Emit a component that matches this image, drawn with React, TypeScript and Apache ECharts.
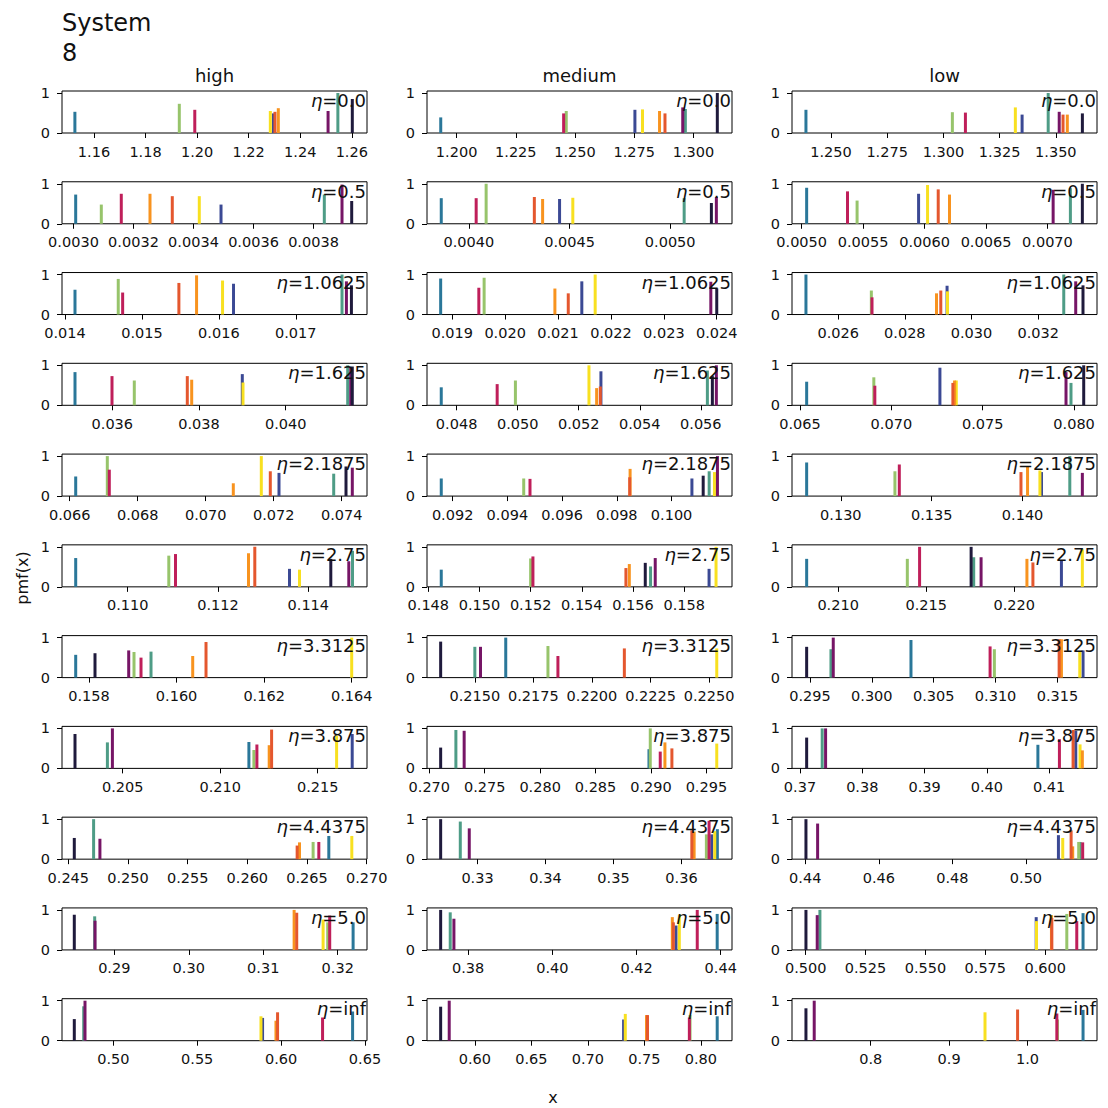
import React, { useEffect, useRef } from "react";
import * as echarts from "echarts";

// draw order: earlier categories are painted first (underneath)
const categories = ["navy", "teal", "seagreen", "green", "yellow", "orange", "redorange", "crimson", "purple", "dark"];
const categoryColors = ["#3b4994", "#2a7799", "#4e9c86", "#97c46b", "#f8e020", "#f8931f", "#e4572e", "#bf1f5a", "#761566", "#1f1a3c"];
const etaLabels = ["0.0", "0.5", "1.0625", "1.625", "2.1875", "2.75", "3.3125", "3.875", "4.4375", "5.0", "inf"];
const columnTitles = ["high", "medium", "low"];

type Bar = [string, number, number];

// ---------- high ----------
const highBars: Bar[][] = [
  [["teal", 1.1526, 0.53], ["green", 1.1931, 0.73], ["crimson", 1.1991, 0.58], ["yellow", 1.2284, 0.55], ["navy", 1.2296, 0.49], ["redorange", 1.2302, 0.53], ["orange", 1.2315, 0.62], ["purple", 1.2508, 0.55], ["seagreen", 1.2546, 1.0], ["dark", 1.2602, 0.85]],
  [["teal", 0.0030073, 0.73], ["green", 0.0030927, 0.48], ["crimson", 0.0031593, 0.75], ["orange", 0.003255, 0.75], ["redorange", 0.0033293, 0.69], ["yellow", 0.0034193, 0.69], ["navy", 0.0034917, 0.48], ["seagreen", 0.003836, 0.73], ["purple", 0.003895, 0.98], ["dark", 0.0039273, 0.57]],
  [["teal", 0.0141299, 0.62], ["green", 0.0146922, 0.89], ["crimson", 0.0147494, 0.55], ["redorange", 0.0154805, 0.79], ["orange", 0.0157104, 0.98], ["yellow", 0.0160481, 0.85], ["navy", 0.0161909, 0.77], ["seagreen", 0.0176013, 1.0], ["purple", 0.0176584, 0.83], ["dark", 0.0177234, 0.73]],
  [["teal", 0.0351396, 0.83], ["crimson", 0.0359931, 0.73], ["green", 0.0365075, 0.62], ["redorange", 0.0377301, 0.73], ["orange", 0.0378316, 0.64], ["navy", 0.0389988, 0.78], ["yellow", 0.039015, 0.57], ["seagreen", 0.0414302, 1.0], ["purple", 0.0415, 0.95], ["dark", 0.041536, 0.97]],
  [["teal", 0.0661765, 0.49], ["green", 0.0671059, 1.0], ["crimson", 0.0671647, 0.66], ["orange", 0.0708118, 0.32], ["yellow", 0.0716353, 1.0], ["redorange", 0.0719, 0.62], ["navy", 0.0721559, 0.58], ["seagreen", 0.0737647, 0.56], ["dark", 0.0741265, 0.74], ["purple", 0.0743118, 0.71]],
  [["teal", 0.1088483, 0.72], ["green", 0.1109103, 0.78], ["crimson", 0.1110587, 0.82], ["orange", 0.1126755, 0.84], ["redorange", 0.112815, 1.0], ["navy", 0.1135836, 0.45], ["yellow", 0.1138051, 0.43], ["dark", 0.1144983, 0.7], ["purple", 0.114897, 0.64], ["seagreen", 0.114979, 0.9]],
  [["teal", 0.1576962, 0.57], ["dark", 0.158137, 0.61], ["purple", 0.1589068, 0.68], ["green", 0.1590279, 0.64], ["crimson", 0.1591878, 0.5], ["seagreen", 0.1594162, 0.65], ["orange", 0.1603687, 0.54], ["redorange", 0.1606725, 0.89], ["yellow", 0.164, 1.0]],
  [["dark", 0.2025538, 0.86], ["seagreen", 0.2042154, 0.65], ["purple", 0.2044718, 1.0], ["teal", 0.2114718, 0.66], ["green", 0.2117282, 0.46], ["crimson", 0.2118821, 0.6], ["orange", 0.2125128, 0.58], ["redorange", 0.2126359, 0.97], ["yellow", 0.2159692, 0.82], ["navy", 0.2167692, 0.86]],
  [["dark", 0.2455025, 0.53], ["seagreen", 0.2471206, 1.0], ["purple", 0.2476491, 0.51], ["redorange", 0.2641729, 0.34], ["orange", 0.2643719, 0.42], ["green", 0.2655109, 0.43], ["crimson", 0.2659883, 0.43], ["teal", 0.2668258, 0.58], ["yellow", 0.2687521, 0.58]],
  [["dark", 0.2846309, 0.88], ["seagreen", 0.2873691, 0.84], ["purple", 0.2874139, 0.73], ["orange", 0.3141477, 1.0], ["redorange", 0.3144966, 0.93], ["yellow", 0.3180403, 0.76], ["green", 0.3186577, 0.69], ["crimson", 0.3189262, 0.86], ["teal", 0.3220671, 0.69]],
  [["dark", 0.476758, 0.54], ["seagreen", 0.48236, 0.86], ["purple", 0.4831347, 1.0], ["yellow", 0.5880016, 0.61], ["navy", 0.5889551, 0.57], ["orange", 0.5969408, 0.5], ["redorange", 0.5978942, 0.71], ["crimson", 0.6247119, 0.58], ["teal", 0.6426102, 0.73]],
];
const highRange: [number, number][] = [
  [1.1476, 1.2659], [0.0029617, 0.0039783], [0.013961, 0.017926], [0.0348397, 0.0418754], [0.0657735, 0.0747441],
  [0.1085449, 0.1153001], [0.1573833, 0.1643495], [0.2018872, 0.2175282], [0.2444724, 0.2700251], [0.2829799, 0.3239329], [0.4694279, 0.6511919],
];
const highTicks: string[][] = [
  ["1.16", "1.18", "1.20", "1.22", "1.24", "1.26"],
  ["0.0030", "0.0032", "0.0034", "0.0036", "0.0038"],
  ["0.014", "0.015", "0.016", "0.017"],
  ["0.036", "0.038", "0.040"],
  ["0.066", "0.068", "0.070", "0.072", "0.074"],
  ["0.110", "0.112", "0.114"],
  ["0.158", "0.160", "0.162", "0.164"],
  ["0.205", "0.210", "0.215"],
  ["0.245", "0.250", "0.255", "0.260", "0.265", "0.270"],
  ["0.29", "0.30", "0.31", "0.32"],
  ["0.50", "0.55", "0.60", "0.65"],
];

// ---------- medium ----------
const mediumBars: Bar[][] = [
  [["teal", 1.1933, 0.39], ["crimson", 1.2452, 0.49], ["green", 1.2463, 0.55], ["navy", 1.2753, 0.58], ["yellow", 1.2785, 0.59], ["orange", 1.2857, 0.55], ["redorange", 1.288, 0.49], ["purple", 1.2955, 0.64], ["seagreen", 1.2966, 0.6], ["dark", 1.3101, 1.0]],
  [["teal", 0.0038629, 0.64], ["crimson", 0.0040363, 0.64], ["green", 0.0040858, 1.0], ["redorange", 0.0043252, 0.67], ["orange", 0.0043663, 0.62], ["navy", 0.0044505, 0.62], ["yellow", 0.0045163, 0.65], ["seagreen", 0.0050693, 0.64], ["dark", 0.0052045, 0.52], ["purple", 0.0052292, 0.67]],
  [["teal", 0.0187814, 0.9], ["crimson", 0.0195031, 0.67], ["green", 0.019603, 0.92], ["orange", 0.0209408, 0.65], ["redorange", 0.0211933, 0.53], ["navy", 0.0214496, 0.83], ["yellow", 0.0217021, 1.0], ["purple", 0.0238879, 0.82], ["dark", 0.024, 0.65]],
  [["teal", 0.0474971, 0.45], ["crimson", 0.049329, 0.53], ["green", 0.0499265, 0.62], ["yellow", 0.0523363, 1.0], ["orange", 0.0525877, 0.43], ["redorange", 0.0527085, 0.47], ["navy", 0.0527281, 0.85], ["seagreen", 0.0562155, 0.87], ["dark", 0.0563788, 0.73], ["purple", 0.0565094, 1.0]],
  [["teal", 0.0915847, 0.44], ["green", 0.0945975, 0.44], ["crimson", 0.094827, 0.43], ["orange", 0.0984845, 0.68], ["redorange", 0.0984699, 0.47], ["navy", 0.1007432, 0.44], ["dark", 0.1011548, 0.51], ["seagreen", 0.1013734, 0.62], ["yellow", 0.1015665, 0.6], ["purple", 0.1016758, 1.0]],
  [["teal", 0.1485064, 0.43], ["green", 0.152, 0.71], ["crimson", 0.1520896, 0.76], ["redorange", 0.1557242, 0.47], ["orange", 0.1558567, 0.57], ["dark", 0.15648, 0.6], ["seagreen", 0.1566865, 0.51], ["purple", 0.1568696, 0.72], ["navy", 0.1589732, 0.45], ["yellow", 0.1592459, 1.0]],
  [["dark", 0.2135404, 0.9], ["seagreen", 0.215, 0.77], ["purple", 0.2152426, 0.77], ["teal", 0.2163191, 1.0], ["green", 0.2181213, 0.79], ["crimson", 0.2185468, 0.54], ["redorange", 0.221383, 0.73], ["yellow", 0.2253277, 0.73]],
  [["dark", 0.2710252, 0.52], ["seagreen", 0.2723993, 0.96], ["purple", 0.2731457, 0.94], ["teal", 0.2898201, 0.48], ["green", 0.2899371, 1.0], ["crimson", 0.2908363, 0.42], ["orange", 0.291259, 0.65], ["redorange", 0.2918885, 0.5], ["yellow", 0.2959353, 0.62]],
  [["dark", 0.3245748, 1.0], ["seagreen", 0.3274633, 0.94], ["purple", 0.328783, 0.77], ["redorange", 0.3615249, 0.72], ["orange", 0.3618622, 0.69], ["green", 0.3636657, 0.62], ["crimson", 0.3640616, 0.96], ["navy", 0.3644575, 0.62], ["yellow", 0.3648974, 0.7], ["teal", 0.3652786, 0.75]],
  [["dark", 0.3734643, 1.0], ["seagreen", 0.3757376, 0.94], ["purple", 0.3766138, 0.78], ["orange", 0.4285, 0.82], ["redorange", 0.4287398, 0.69], ["navy", 0.4293772, 0.61], ["yellow", 0.4301587, 0.88], ["crimson", 0.434421, 1.0], ["teal", 0.439157, 0.9]],
  [["dark", 0.5697531, 0.85], ["purple", 0.5773369, 1.0], ["navy", 0.7316578, 0.53], ["yellow", 0.733157, 0.67], ["orange", 0.75194, 0.64], ["redorange", 0.7528219, 0.64], ["crimson", 0.7898589, 0.58], ["green", 0.7904762, 0.64], ["teal", 0.8145062, 0.61]],
];
const mediumRange: [number, number][] = [
  [1.1875, 1.3163], [0.0037921, 0.0053069], [0.0185233, 0.0242883], [0.0470302, 0.0570221], [0.0910637, 0.1022077],
  [0.1479494, 0.1598699], [0.2129574, 0.2259787], [0.2697932, 0.2973112], [0.322566, 0.367434], [0.3702201, 0.4426758], [0.557672, 0.8276014],
];
const mediumTicks: string[][] = [
  ["1.200", "1.225", "1.250", "1.275", "1.300"],
  ["0.0040", "0.0045", "0.0050"],
  ["0.019", "0.020", "0.021", "0.022", "0.023", "0.024"],
  ["0.048", "0.050", "0.052", "0.054", "0.056"],
  ["0.092", "0.094", "0.096", "0.098", "0.100"],
  ["0.148", "0.150", "0.152", "0.154", "0.156", "0.158"],
  ["0.2150", "0.2175", "0.2200", "0.2225", "0.2250"],
  ["0.270", "0.275", "0.280", "0.285", "0.290", "0.295"],
  ["0.33", "0.34", "0.35", "0.36"],
  ["0.38", "0.40", "0.42", "0.44"],
  ["0.60", "0.65", "0.70", "0.75", "0.80"],
];

// ---------- low ----------
const lowBars: Bar[][] = [
  [["teal", 1.2389, 0.58], ["green", 1.304, 0.52], ["crimson", 1.3098, 0.51], ["yellow", 1.332, 0.64], ["navy", 1.335, 0.46], ["seagreen", 1.3466, 1.0], ["purple", 1.3515, 0.53], ["redorange", 1.3532, 0.46], ["orange", 1.3551, 0.46], ["dark", 1.3618, 0.49]],
  [["teal", 0.0050405, 0.9], ["crimson", 0.005373, 0.81], ["green", 0.0054509, 0.58], ["navy", 0.0059513, 0.75], ["yellow", 0.0060243, 0.97], ["redorange", 0.0061111, 0.86], ["orange", 0.0062027, 0.73], ["purple", 0.0070462, 0.85], ["seagreen", 0.0071866, 0.89], ["dark", 0.0072839, 1.0]],
  [["teal", 0.0250344, 1.0], ["green", 0.0269955, 0.6], ["crimson", 0.0270155, 0.43], ["orange", 0.0289498, 0.53], ["redorange", 0.0290785, 0.6], ["navy", 0.0292668, 0.72], ["yellow", 0.0292787, 0.58], ["seagreen", 0.0327666, 1.0], ["purple", 0.0331253, 0.83], ["dark", 0.0333438, 0.73]],
  [["teal", 0.0653655, 0.59], ["green", 0.0690418, 0.7], ["crimson", 0.0690963, 0.49], ["navy", 0.0726582, 0.94], ["redorange", 0.0733677, 0.56], ["orange", 0.0734605, 0.62], ["yellow", 0.0735533, 0.62], ["purple", 0.0795584, 0.83], ["seagreen", 0.0798311, 0.56], ["dark", 0.0805273, 1.0]],
  [["teal", 0.1281195, 0.84], ["green", 0.132977, 0.62], ["crimson", 0.1332182, 0.79], ["redorange", 0.1399123, 0.6], ["orange", 0.1402741, 0.73], ["yellow", 0.1409539, 0.64], ["navy", 0.1410417, 0.6], ["seagreen", 0.1425987, 1.0], ["purple", 0.1432895, 0.58]],
  [["teal", 0.2082117, 0.7], ["green", 0.2139276, 0.7], ["crimson", 0.2146236, 1.0], ["dark", 0.2175495, 1.0], ["seagreen", 0.2176966, 0.74], ["purple", 0.2181154, 0.74], ["orange", 0.2207187, 0.7], ["redorange", 0.2210583, 0.61], ["navy", 0.2226769, 0.66], ["yellow", 0.2238653, 0.94]],
  [["dark", 0.2947343, 0.77], ["seagreen", 0.2966988, 0.71], ["purple", 0.296884, 1.0], ["teal", 0.3031643, 0.94], ["crimson", 0.3095571, 0.78], ["green", 0.3099033, 0.71], ["redorange", 0.3151369, 0.96], ["orange", 0.3153221, 0.96], ["yellow", 0.3168035, 0.67], ["navy", 0.3170692, 0.68]],
  [["dark", 0.371072, 0.77], ["seagreen", 0.373568, 1.0], ["purple", 0.374112, 1.0], ["teal", 0.408192, 0.59], ["crimson", 0.411648, 0.73], ["redorange", 0.41384, 0.96], ["navy", 0.414272, 0.94], ["yellow", 0.41496, 0.6], ["orange", 0.415328, 0.45]],
  [["dark", 0.4401897, 1.0], ["purple", 0.4433604, 0.89], ["navy", 0.5088347, 0.6], ["yellow", 0.5100081, 0.53], ["redorange", 0.5122846, 0.72], ["orange", 0.5127182, 0.32], ["green", 0.5143442, 0.43], ["seagreen", 0.5147236, 0.43], ["crimson", 0.5154282, 0.42]],
  [["dark", 0.5001248, 1.0], ["purple", 0.5048273, 0.87], ["seagreen", 0.5059509, 1.0], ["navy", 0.5962547, 0.82], ["yellow", 0.5963796, 0.72], ["orange", 0.6026217, 0.87], ["redorange", 0.6027882, 0.8], ["green", 0.6090303, 0.9], ["crimson", 0.6131918, 0.72], ["teal", 0.6158135, 0.92]],
  [["dark", 0.7174079, 0.81], ["purple", 0.7279543, 1.0], ["yellow", 0.9457433, 0.71], ["redorange", 0.9872935, 0.78], ["crimson", 1.037357, 0.68], ["green", 1.0381194, 0.53], ["teal", 1.0707751, 0.77]],
];
const lowRange: [number, number][] = [
  [1.2327, 1.3683], [0.0049213, 0.0074031], [0.0246158, 0.0337638], [0.0645636, 0.0812545], [0.1273136, 0.1440954],
  [0.2073797, 0.2246972], [0.2935507, 0.3181965], [0.36872, 0.41768], [0.4363957, 0.5193225], [0.4942988, 0.6216396], [0.6996188, 1.0885642],
];
const lowTicks: string[][] = [
  ["1.250", "1.275", "1.300", "1.325", "1.350"],
  ["0.0050", "0.0055", "0.0060", "0.0065", "0.0070"],
  ["0.026", "0.028", "0.030", "0.032"],
  ["0.065", "0.070", "0.075", "0.080"],
  ["0.130", "0.135", "0.140"],
  ["0.210", "0.215", "0.220"],
  ["0.295", "0.300", "0.305", "0.310", "0.315"],
  ["0.37", "0.38", "0.39", "0.40", "0.41"],
  ["0.44", "0.46", "0.48", "0.50"],
  ["0.500", "0.525", "0.550", "0.575", "0.600"],
  ["0.8", "0.9", "1.0"],
];

const yTicks = [0, 1];

const columnsData = [
  { bars: highBars, range: highRange, ticks: highTicks },
  { bars: mediumBars, range: mediumRange, ticks: mediumTicks },
  { bars: lowBars, range: lowRange, ticks: lowTicks },
];

// layout
const FONT = "DejaVu Sans";
const COL_LEFT = [62, 427, 792];
const PLOT_W = 305;
const PLOT_H = 42;
const ROW_BOTTOM0 = 133;
const ROW_STEP = 90.77;
const TEXT = "#111";

function buildOption() {
  const grid: any[] = [];
  const xAxis: any[] = [];
  const yAxis: any[] = [];
  const series: any[] = [];
  const graphic: any[] = [];

  columnsData.forEach((col, c) => {
    col.bars.forEach((bars, r) => {
      const idx = grid.length;
      const bottom = ROW_BOTTOM0 + ROW_STEP * r;
      const top = bottom - PLOT_H;
      const [min, max] = col.range[r];
      const tickStr = col.ticks[r];
      const ticks = tickStr.map(Number).filter((v) => v >= min - 1e-12 && v <= max + 1e-12);
      const dec = (tickStr[0].split(".")[1] || "").length;

      grid.push({
        left: COL_LEFT[c],
        top,
        width: PLOT_W,
        height: PLOT_H,
        show: true,
        borderColor: "#000",
        borderWidth: 1,
        backgroundColor: "transparent",
        containLabel: false,
      });
      xAxis.push({
        type: "value",
        gridIndex: idx,
        min,
        max,
        axisLine: { show: false },
        splitLine: { show: false },
        axisTick: { show: true, customValues: ticks, length: 5, lineStyle: { color: "#000", width: 1 } },
        axisLabel: {
          customValues: ticks,
          formatter: (v: number) => v.toFixed(dec),
          fontSize: 14.5,
          fontFamily: FONT,
          color: TEXT,
          margin: 11,
        },
      });
      yAxis.push({
        type: "value",
        gridIndex: idx,
        min: 0,
        max: 1.05,
        axisLine: { show: false },
        splitLine: { show: false },
        axisTick: { show: true, customValues: yTicks, length: 5, lineStyle: { color: "#000", width: 1 } },
        axisLabel: {
          customValues: yTicks,
          formatter: (v: number) => v.toFixed(0),
          fontSize: 14.5,
          fontFamily: FONT,
          color: TEXT,
          margin: 12,
        },
      });
      const sorted = [...bars].sort((a, b) => categories.indexOf(a[0]) - categories.indexOf(b[0]));
      series.push({
        type: "custom",
        coordinateSystem: "cartesian2d",
        xAxisIndex: idx,
        yAxisIndex: idx,
        clip: false,
        encode: { x: 0, y: 1 },
        data: sorted.map((b) => [b[1], b[2], categories.indexOf(b[0])]),
        renderItem: (params: any, api: any) => {
          const x = api.value(0);
          const h = api.value(1);
          const ci = api.value(2);
          const p0 = api.coord([x, 0]);
          const p1 = api.coord([x, h]);
          return {
            type: "rect",
            shape: { x: p0[0] - 1.5, y: p1[1], width: 3, height: p0[1] - p1[1] },
            style: { fill: categoryColors[ci] },
          };
        },
      });
      graphic.push({
        type: "text",
        x: COL_LEFT[c] + PLOT_W - 1,
        y: top + 0.5,
        z: 100,
        style: {
          text: `{e|η}=${etaLabels[r]}`,
          fontSize: 18,
          fontFamily: FONT,
          fill: TEXT,
          align: "right",
          verticalAlign: "top",
          rich: { e: { fontStyle: "italic", fontSize: 18, fontFamily: FONT, fill: TEXT } },
        },
      });
    });
    graphic.push({
      type: "text",
      x: COL_LEFT[c] + PLOT_W / 2,
      y: 75,
      style: { text: columnTitles[c], fontSize: 18, fontFamily: FONT, fill: TEXT, align: "center", verticalAlign: "middle" },
    });
  });

  graphic.push({
    type: "text",
    x: 62,
    y: 8,
    style: { text: "System\n8", fontSize: 24, lineHeight: 30, fontFamily: FONT, fill: TEXT, align: "left", verticalAlign: "top" },
  });
  graphic.push({
    type: "text",
    x: 22,
    y: 578,
    rotation: Math.PI / 2,
    style: { text: "pmf(x)", fontSize: 16, fontFamily: FONT, fill: TEXT, align: "center", verticalAlign: "middle" },
  });
  graphic.push({
    type: "text",
    x: 553,
    y: 1097,
    style: { text: "x", fontSize: 16, fontFamily: FONT, fill: TEXT, align: "center", verticalAlign: "middle" },
  });

  return {
    animation: false,
    backgroundColor: "#fff",
    grid,
    xAxis,
    yAxis,
    series,
    graphic,
  };
}

export default function App() {
  const ref = useRef<HTMLDivElement>(null);
  useEffect(() => {
    if (!ref.current) return;
    const chart = echarts.init(ref.current, undefined, { renderer: "svg" });
    chart.setOption(buildOption() as any);
    return () => chart.dispose();
  }, []);
  return <div ref={ref} style={{ position: "absolute", left: 0, top: 0, width: 1108, height: 1108 }} />;
}
